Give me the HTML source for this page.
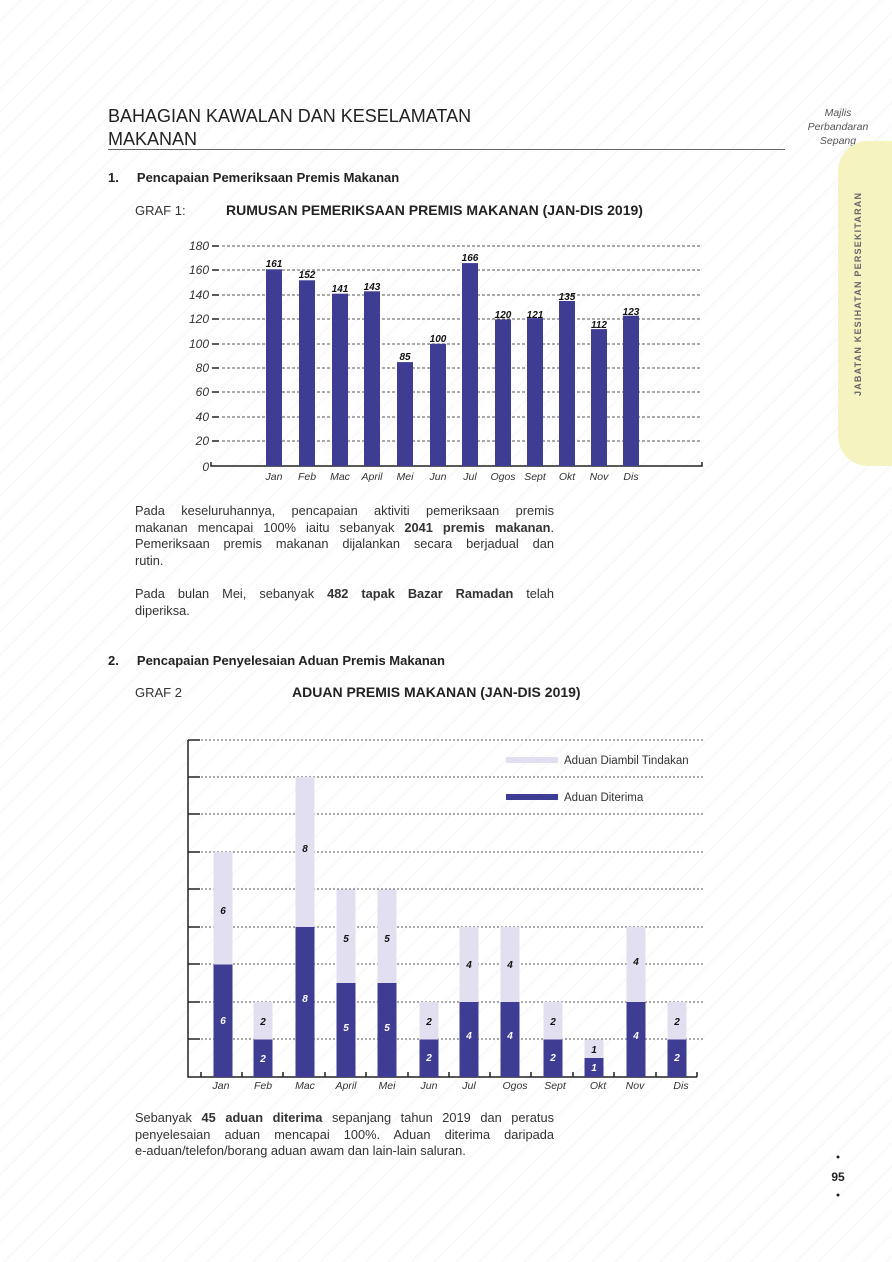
<!DOCTYPE html>
<html><head><meta charset="utf-8"><style>
body{margin:0;background:#fff;}
#p{position:relative;width:892px;height:1262px;overflow:hidden;font-family:"Liberation Sans",sans-serif;color:#222;background:repeating-linear-gradient(135deg,#fff 0 14px,#f9f9f9 14px 16px);}
.a{position:absolute;}
.t{font-size:12.8px;line-height:16.5px;width:419px;left:135px;text-align:justify;color:#333;}
.j{text-align-last:justify;}
</style></head><body><div id="p">
<div class="a" style="left:108px;top:105px;font-size:18px;line-height:23px;color:#222;">BAHAGIAN KAWALAN DAN KESELAMATAN<br>MAKANAN</div>
<div class="a" style="left:108px;top:149px;width:677px;height:1px;background:#666;"></div>
<div class="a" style="left:788px;top:106px;width:100px;text-align:center;font-size:10.5px;line-height:14px;font-style:italic;color:#555;">Majlis<br>Perbandaran<br>Sepang</div>
<div class="a" style="left:838px;top:141px;width:60px;height:325px;background:#f5f3c0;border-radius:30px 0 0 30px;"></div>
<div class="a" style="left:853px;top:396px;transform:rotate(-90deg);transform-origin:0 0;font-size:9px;letter-spacing:1.2px;color:#666;white-space:nowrap;font-weight:bold;">JABATAN KESIHATAN PERSEKITARAN</div>
<div class="a" style="left:108px;top:170px;font-size:13px;font-weight:bold;">1.&nbsp;&nbsp;&nbsp;&nbsp;&nbsp;Pencapaian Pemeriksaan Premis Makanan</div>
<div class="a" style="left:135px;top:203px;font-size:13px;color:#333;">GRAF 1:</div>
<div class="a" style="left:226px;top:202px;font-size:14px;font-weight:bold;">RUMUSAN PEMERIKSAAN PREMIS MAKANAN (JAN-DIS 2019)</div>
<svg class="a" style="left:0;top:0" width="892" height="1262" font-family="Liberation Sans">
<g stroke="#555" stroke-dasharray="3,2" stroke-width="1">
<line x1="222" y1="246" x2="702" y2="246"/><line x1="222" y1="270" x2="702" y2="270"/><line x1="222" y1="295" x2="702" y2="295"/><line x1="222" y1="319" x2="702" y2="319"/><line x1="222" y1="344" x2="702" y2="344"/><line x1="222" y1="368" x2="702" y2="368"/><line x1="222" y1="392" x2="702" y2="392"/><line x1="222" y1="417" x2="702" y2="417"/><line x1="222" y1="441" x2="702" y2="441"/>
</g>
<g stroke="#222" stroke-width="1.5"><line x1="212" y1="246" x2="219" y2="246"/><line x1="212" y1="270" x2="219" y2="270"/><line x1="212" y1="295" x2="219" y2="295"/><line x1="212" y1="319" x2="219" y2="319"/><line x1="212" y1="344" x2="219" y2="344"/><line x1="212" y1="368" x2="219" y2="368"/><line x1="212" y1="392" x2="219" y2="392"/><line x1="212" y1="417" x2="219" y2="417"/><line x1="212" y1="441" x2="219" y2="441"/>
<polyline fill="none" points="211,462 211,466 702,466 702,462"/></g>
<g font-size="12" font-style="italic" fill="#333" text-anchor="end"><text x="209" y="250">180</text><text x="209" y="274">160</text><text x="209" y="299">140</text><text x="209" y="323">120</text><text x="209" y="348">100</text><text x="209" y="372">80</text><text x="209" y="396">60</text><text x="209" y="421">40</text><text x="209" y="445">20</text><text x="209" y="471">0</text></g>
<g fill="#3f3c94">
<rect x="266" y="269.3" width="16" height="196.7"/><rect x="299" y="280.3" width="16" height="185.7"/><rect x="332" y="293.7" width="16" height="172.3"/><rect x="364" y="291.3" width="16" height="174.7"/><rect x="397" y="362.1" width="16" height="103.9"/><rect x="430" y="343.8" width="16" height="122.2"/><rect x="462" y="263.1" width="16" height="202.9"/><rect x="495" y="319.4" width="16" height="146.6"/><rect x="527" y="318.1" width="16" height="147.9"/><rect x="559" y="301" width="16" height="165"/><rect x="591" y="329.1" width="16" height="136.9"/><rect x="623" y="315.7" width="16" height="150.3"/>
</g>
<g font-size="10" font-weight="bold" font-style="italic" fill="#111" text-anchor="middle">
<text x="274" y="267">161</text><text x="307" y="278">152</text><text x="340" y="292">141</text><text x="372" y="290">143</text><text x="405" y="360">85</text><text x="438" y="342">100</text><text x="470" y="261">166</text><text x="503" y="318">120</text><text x="535" y="318">121</text><text x="567" y="300">135</text><text x="599" y="328">112</text><text x="631" y="315">123</text></g>
<g font-size="10.5" font-style="italic" fill="#333" text-anchor="middle">
<text x="274" y="480">Jan</text><text x="307" y="480">Feb</text><text x="340" y="480">Mac</text><text x="372" y="480">April</text><text x="405" y="480">Mei</text><text x="438" y="480">Jun</text><text x="470" y="480">Jul</text><text x="503" y="480">Ogos</text><text x="535" y="480">Sept</text><text x="567" y="480">Okt</text><text x="599" y="480">Nov</text><text x="631" y="480">Dis</text></g>

<g stroke="#555" stroke-dasharray="2,2" stroke-width="1">
<line x1="201" y1="740" x2="704" y2="740"/><line x1="201" y1="777" x2="704" y2="777"/><line x1="201" y1="814" x2="704" y2="814"/><line x1="201" y1="852" x2="704" y2="852"/><line x1="201" y1="889" x2="704" y2="889"/><line x1="201" y1="927" x2="704" y2="927"/><line x1="201" y1="964" x2="704" y2="964"/><line x1="201" y1="1002" x2="704" y2="1002"/><line x1="201" y1="1039" x2="704" y2="1039"/>
</g>
<g stroke="#222" stroke-width="1.5"><line x1="188" y1="740" x2="200" y2="740"/><line x1="188" y1="777" x2="200" y2="777"/><line x1="188" y1="814" x2="200" y2="814"/><line x1="188" y1="852" x2="200" y2="852"/><line x1="188" y1="889" x2="200" y2="889"/><line x1="188" y1="927" x2="200" y2="927"/><line x1="188" y1="964" x2="200" y2="964"/><line x1="188" y1="1002" x2="200" y2="1002"/><line x1="188" y1="1039" x2="200" y2="1039"/>
<polyline fill="none" points="188,740 188,1077 697,1077"/>
<path d="M201 1077v-5M242 1077v-5M283 1077v-5M325 1077v-5M366 1077v-5M408 1077v-5M449 1077v-5M490 1077v-5M531 1077v-5M573 1077v-5M614 1077v-5M656 1077v-5M697 1077v-5"/></g>
<g fill="#e2e0f0">
<rect x="213.5" y="852" width="19" height="225"/><rect x="253.5" y="1002" width="19" height="75"/><rect x="295.5" y="777" width="19" height="300"/><rect x="336.5" y="889.5" width="19" height="187.5"/><rect x="377.5" y="889.5" width="19" height="187.5"/><rect x="419.5" y="1002" width="19" height="75"/><rect x="459.5" y="927" width="19" height="150"/><rect x="500.5" y="927" width="19" height="150"/><rect x="543.5" y="1002" width="19" height="75"/><rect x="584.5" y="1039.5" width="19" height="37.5"/><rect x="626.5" y="927" width="19" height="150"/><rect x="667.5" y="1002" width="19" height="75"/>
<rect x="506" y="757" width="52" height="6"/></g>
<g fill="#3f3c94">
<rect x="213.5" y="964.5" width="19" height="112.5"/><rect x="253.5" y="1039.5" width="19" height="37.5"/><rect x="295.5" y="927" width="19" height="150"/><rect x="336.5" y="983" width="19" height="94"/><rect x="377.5" y="983" width="19" height="94"/><rect x="419.5" y="1039.5" width="19" height="37.5"/><rect x="459.5" y="1002" width="19" height="75"/><rect x="500.5" y="1002" width="19" height="75"/><rect x="543.5" y="1039.5" width="19" height="37.5"/><rect x="584.5" y="1058" width="19" height="19"/><rect x="626.5" y="1002" width="19" height="75"/><rect x="667.5" y="1039.5" width="19" height="37.5"/>
<rect x="506" y="794" width="52" height="6"/></g>
<g font-size="11.5" fill="#333"><text x="564" y="764">Aduan Diambil Tindakan</text><text x="564" y="801">Aduan Diterima</text></g>
<g font-size="10" font-weight="bold" font-style="italic" text-anchor="middle" fill="#111">
<text x="223" y="914">6</text><text x="263" y="1025">2</text><text x="305" y="852">8</text><text x="346" y="942">5</text><text x="387" y="942">5</text><text x="429" y="1025">2</text><text x="469" y="968">4</text><text x="510" y="968">4</text><text x="553" y="1025">2</text><text x="594" y="1053">1</text><text x="636" y="965">4</text><text x="677" y="1025">2</text></g>
<g font-size="10" font-weight="bold" font-style="italic" text-anchor="middle" fill="#fff">
<text x="223" y="1024">6</text><text x="263" y="1062">2</text><text x="305" y="1002">8</text><text x="346" y="1031">5</text><text x="387" y="1031">5</text><text x="429" y="1061">2</text><text x="469" y="1039">4</text><text x="510" y="1039">4</text><text x="553" y="1061">2</text><text x="594" y="1071">1</text><text x="636" y="1039">4</text><text x="677" y="1061">2</text></g>
<g font-size="10.5" font-style="italic" fill="#333" text-anchor="middle">
<text x="221" y="1089">Jan</text><text x="263" y="1089">Feb</text><text x="305" y="1089">Mac</text><text x="346" y="1089">April</text><text x="387" y="1089">Mei</text><text x="429" y="1089">Jun</text><text x="469" y="1089">Jul</text><text x="515" y="1089">Ogos</text><text x="555" y="1089">Sept</text><text x="598" y="1089">Okt</text><text x="635" y="1089">Nov</text><text x="681" y="1089">Dis</text></g>
<circle cx="838" cy="1157" r="1.5" fill="#222"/><circle cx="838" cy="1195" r="1.5" fill="#222"/>
<text x="838" y="1181" font-size="12" font-weight="bold" text-anchor="middle" fill="#222">95</text>
</svg>
<div class="a t j" style="top:503px;">Pada keseluruhannya, pencapaian aktiviti pemeriksaan premis</div>
<div class="a t j" style="top:519.5px;">makanan mencapai 100% iaitu sebanyak <b>2041 premis makanan</b>.</div>
<div class="a t j" style="top:536px;">Pemeriksaan premis makanan dijalankan secara berjadual dan</div>
<div class="a t" style="top:552.5px;">rutin.</div>
<div class="a t j" style="top:586px;">Pada bulan Mei, sebanyak <b>482 tapak Bazar Ramadan</b> telah</div>
<div class="a t" style="top:602.5px;">diperiksa.</div>
<div class="a" style="left:108px;top:653px;font-size:13px;font-weight:bold;">2.&nbsp;&nbsp;&nbsp;&nbsp;&nbsp;Pencapaian Penyelesaian Aduan Premis Makanan</div>
<div class="a" style="left:135px;top:685px;font-size:13px;color:#333;">GRAF 2</div>
<div class="a" style="left:292px;top:684px;font-size:14px;font-weight:bold;">ADUAN PREMIS MAKANAN (JAN-DIS 2019)</div>
<div class="a t j" style="top:1110px;">Sebanyak <b>45 aduan diterima</b> sepanjang tahun 2019 dan peratus</div>
<div class="a t j" style="top:1126.5px;">penyelesaian aduan mencapai 100%. Aduan diterima daripada</div>
<div class="a t" style="top:1143px;">e-aduan/telefon/borang aduan awam dan lain-lain saluran.</div>
</div></body></html>
